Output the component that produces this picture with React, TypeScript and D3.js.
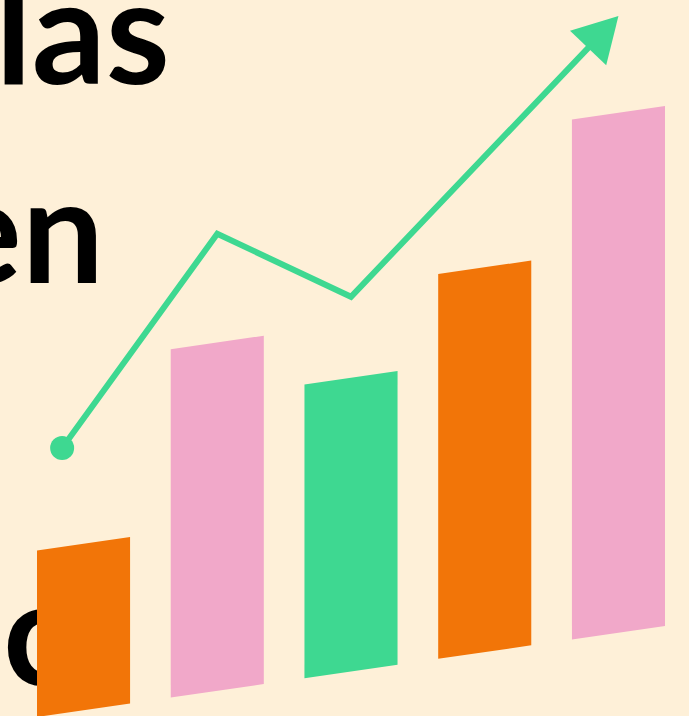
import React from "react";
import * as d3 from "d3";

const W = 689;
const H = 716;

// Bar series
const categories = ["A", "B", "C", "D", "E"];
const barValues = [32, 67, 56.5, 74, 100];
const barColors = ["#F27508", "#F1A8C9", "#3ED891", "#F27508", "#F1A8C9"];

// Trend line series (x in bar-index units)
const lineIndex = [-0.16, 1, 2, 4];
const lineValues = [36, 66.6, 57.6, 97.7];

// Text fragments (cut off at left edge)
const textLines = ["las", "en", "c"];

const BG = "#FEF0D8";
const LINE_COLOR = "#3ED891";

export default function App() {
  const skewTan = -0.145;
  const skewDeg = (Math.atan(skewTan) * 180) / Math.PI;
  const base = 717 - skewTan * 37; // baseline in unskewed coords

  const x = d3
    .scaleBand<string>()
    .domain(categories)
    .range([37, 665])
    .paddingInner(0.304)
    .paddingOuter(0);

  const y = d3.scaleLinear().domain([0, 100]).range([base, base - 520]);

  const xl = d3
    .scaleLinear()
    .domain([0, categories.length - 1])
    .range([
      (x(categories[0]) as number) + x.bandwidth() / 2,
      (x(categories[categories.length - 1]) as number) + x.bandwidth() / 2,
    ]);
  const yl = d3.scaleLinear().domain([0, 100]).range([700, 0]);

  const pts: [number, number][] = lineIndex.map((d, i) => [xl(d), yl(lineValues[i])]);
  const tip = pts[pts.length - 1];
  const prev = pts[pts.length - 2];
  const dx = tip[0] - prev[0];
  const dy = tip[1] - prev[1];
  const len = Math.hypot(dx, dy);
  const ux = dx / len;
  const uy = dy / len;
  const headLen = 44;
  const headHalf = 25;
  const bm: [number, number] = [tip[0] - headLen * ux, tip[1] - headLen * uy];
  const c1: [number, number] = [bm[0] - headHalf * uy, bm[1] + headHalf * ux];
  const c2: [number, number] = [bm[0] + headHalf * uy, bm[1] - headHalf * ux];
  const linePts: [number, number][] = [...pts.slice(0, -1), [bm[0] + 4 * ux, bm[1] + 4 * uy]];
  const lineGen = d3.line<[number, number]>();

  const textStyle: React.CSSProperties = {
    fontFamily: "Lato, 'Noto Sans', sans-serif",
    fontWeight: 700,
    fontSize: 146,
    fill: "#000",
  };

  return (
    <svg
      width={W}
      height={H}
      viewBox={`0 0 ${W} ${H}`}
      style={{ position: "fixed", left: 0, top: 0, display: "block" }}
    >
      <rect x={0} y={0} width={W} height={H} fill={BG} />
      <text x={170} y={84} textAnchor="end" style={textStyle}>
        {textLines[0]}
      </text>
      <text x={104} y={283} textAnchor="end" style={textStyle}>
        {textLines[1]}
      </text>
      <text x={3} y={685} textAnchor="start" style={textStyle}>
        {textLines[2]}
      </text>
      <g transform={`skewY(${skewDeg})`}>
        {categories.map((c, i) => (
          <rect
            key={c}
            x={x(c)}
            y={y(barValues[i])}
            width={x.bandwidth()}
            height={base - y(barValues[i])}
            fill={barColors[i]}
          />
        ))}
      </g>
      <path
        d={lineGen(linePts) || ""}
        fill="none"
        stroke={LINE_COLOR}
        strokeWidth={6}
        strokeLinejoin="miter"
      />
      <circle cx={pts[0][0]} cy={pts[0][1]} r={12} fill={LINE_COLOR} />
      <polygon
        points={[tip, c1, c2].map((p) => p.join(",")).join(" ")}
        fill={LINE_COLOR}
      />
    </svg>
  );
}
